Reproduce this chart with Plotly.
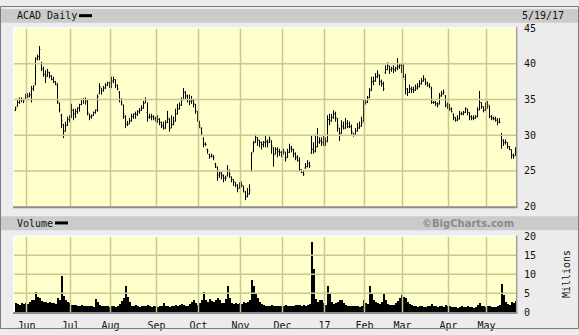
import plotly.graph_objects as go
import pandas as pd

# ---------------- data ----------------
holidays = ["2016-05-30", "2016-07-04", "2016-09-05", "2016-11-24", "2016-12-26",
            "2017-01-02", "2017-01-16", "2017-02-20", "2017-04-14"]
dates = pd.bdate_range("2016-05-23", "2017-05-19")
dates = dates[~dates.isin(pd.to_datetime(holidays))]

month_labels = ["Jun", "Jul", "Aug", "Sep", "Oct", "Nov", "Dec", "17", "Feb", "Mar", "Apr", "May"]
price_ticks = [20, 25, 30, 35, 40, 45]
volume_ticks = [0, 5, 10, 15, 20]

opens = [
    33.5, 34.0, 34.6, 35.0, 35.0, 35.0,
    35.6, 35.5, 35.7, 36.5, 37.2, 40.8, 41.0, 40.0, 39.3, 38.5, 38.3, 38.8, 38.3, 37.8, 37.5, 37.0, 34.5, 32.8, 31.5, 30.6, 31.4, 32.2,
    32.5, 33.5, 33.0, 33.3, 33.8, 34.3, 35.0, 35.0, 34.8, 33.0, 32.6, 32.8, 33.2, 33.5, 35.8, 36.6, 36.3, 36.6, 37.0, 37.3,
    37.0, 37.6, 37.8, 37.0, 36.0, 35.0, 34.2, 32.6, 31.6, 31.6, 32.0, 32.6, 33.0, 32.9, 33.3, 33.5, 33.8, 34.5, 33.2, 32.5, 32.6, 32.6, 32.4,
    32.3, 32.2, 31.8, 31.3, 31.0, 31.8, 32.2, 31.0, 31.5, 32.0, 33.0, 33.7, 34.2, 35.0, 36.0, 35.5, 35.0, 34.8, 34.9, 34.3, 33.3,
    32.0, 31.0, 29.5, 28.8, 28.0, 27.3, 27.0, 27.0, 26.0, 25.5, 24.3, 24.7, 24.3, 24.0, 24.3, 25.0, 24.2, 23.8, 23.4, 23.0, 22.6,
    22.8, 22.9, 22.0, 21.4, 21.8, 25.0, 27.8, 29.0, 29.6, 29.3, 29.0, 28.7, 29.0, 29.1, 29.0, 29.2, 28.2, 27.4, 28.0, 27.7, 27.6,
    27.4, 27.6, 26.9, 27.6, 28.2, 28.0, 27.4, 26.9, 26.4, 25.1, 24.8, 25.4, 25.6, 26.0, 27.5, 28.0, 27.8, 28.4, 29.0, 29.2, 29.0,
    29.2, 29.3, 32.2, 32.0, 32.5, 33.0, 32.3, 31.0, 30.3, 31.3, 31.0, 31.6, 31.2, 31.2, 30.3, 30.0, 30.6, 31.0, 31.3, 32.0,
    34.4, 34.6, 35.3, 36.3, 37.5, 37.6, 38.2, 38.4, 37.5, 37.2, 38.8, 39.2, 39.7, 39.2, 39.3, 39.2, 39.4, 39.6, 39.8,
    39.5, 37.8, 36.4, 36.0, 36.5, 36.4, 36.3, 36.6, 36.8, 37.2, 37.6, 37.9, 37.3, 37.0, 36.5, 34.6, 34.6, 34.4, 34.4, 35.5, 35.8, 35.5, 34.2,
    33.9, 33.7, 33.0, 32.5, 32.1, 32.3, 33.0, 33.0, 33.2, 33.7, 33.2, 32.6, 32.4, 32.4, 32.6, 33.6, 34.6, 34.0, 33.5,
    34.0, 34.0, 32.6, 32.4, 32.3, 32.1, 31.8, 30.0, 29.3, 29.0, 29.0, 28.4, 28.0, 27.2, 27.2,
]
highs = [
    34.0, 34.9, 35.3, 35.3, 35.1, 35.8,
    35.9, 36.0, 36.9, 37.0, 40.9, 41.3, 42.5, 40.3, 39.6, 39.1, 39.3, 38.9, 38.4, 38.2, 37.6, 37.3, 34.6, 33.0, 31.6, 31.9, 32.6, 32.8,
    34.4, 33.7, 33.7, 33.9, 34.4, 35.1, 35.2, 35.3, 35.0, 33.0, 32.9, 33.3, 33.6, 35.7, 37.3, 36.6, 36.9, 37.3, 37.5, 37.5,
    38.2, 38.2, 37.8, 37.1, 36.2, 35.2, 34.3, 32.8, 32.0, 32.4, 33.0, 33.0, 33.3, 33.5, 33.8, 34.2, 34.8, 35.3, 34.6, 33.0, 33.0, 32.8, 32.6,
    32.8, 32.4, 31.9, 31.9, 32.1, 33.4, 32.4, 32.8, 32.6, 33.7, 34.4, 34.6, 35.3, 36.6, 36.2, 35.7, 35.7, 35.5, 35.1, 34.4, 33.4,
    32.0, 31.1, 29.7, 29.0, 28.1, 27.4, 27.4, 27.2, 26.1, 25.6, 24.9, 24.8, 24.5, 24.3, 25.8, 25.2, 24.2, 23.8, 23.4, 23.1, 23.4,
    23.5, 22.9, 22.2, 22.6, 23.1, 27.6, 29.2, 30.1, 29.7, 29.3, 29.1, 29.2, 29.9, 29.4, 29.8, 29.3, 28.3, 28.3, 28.3, 28.1, 27.8,
    28.1, 27.6, 28.1, 28.8, 28.5, 28.1, 27.6, 27.2, 26.9, 25.2, 25.1, 26.1, 26.5, 26.3, 30.0, 29.0, 30.1, 31.0, 29.7, 29.7, 29.9,
    29.7, 32.8, 33.0, 33.0, 33.5, 33.3, 32.4, 31.0, 32.1, 31.9, 32.4, 32.1, 31.9, 31.5, 30.3, 31.0, 31.7, 31.9, 32.6, 35.0,
    35.0, 35.5, 36.6, 38.2, 38.2, 38.7, 39.1, 38.5, 37.8, 37.5, 39.8, 40.2, 39.7, 39.6, 39.8, 39.6, 40.8, 40.0, 40.0,
    40.0, 38.6, 36.6, 37.1, 36.8, 36.8, 37.1, 37.3, 37.7, 38.0, 38.4, 37.9, 37.5, 37.3, 36.8, 34.8, 34.8, 34.6, 35.9, 36.2, 36.4, 35.6, 34.6,
    34.4, 33.9, 33.0, 32.5, 32.8, 33.4, 33.3, 33.4, 33.9, 33.7, 33.2, 32.8, 32.8, 32.8, 33.9, 36.2, 34.6, 34.0, 34.6,
    34.8, 34.2, 32.8, 32.6, 32.6, 32.4, 32.4, 30.3, 29.4, 29.4, 29.0, 28.5, 28.0, 27.4, 28.3,
]
lows = [
    33.4, 34.0, 34.4, 34.6, 34.5, 35.0,
    35.2, 35.3, 34.6, 36.2, 37.0, 40.5, 40.5, 39.0, 38.2, 37.3, 38.2, 38.0, 37.7, 37.3, 37.0, 34.4, 33.2, 31.0, 29.6, 30.5, 31.3, 31.8,
    32.4, 32.1, 32.4, 33.0, 33.3, 34.2, 34.4, 34.3, 32.8, 32.1, 32.3, 32.7, 33.0, 33.3, 35.8, 35.7, 36.1, 36.5, 36.9, 36.6,
    36.6, 37.3, 36.6, 36.3, 34.6, 34.2, 32.3, 31.0, 31.3, 31.6, 31.9, 32.3, 32.3, 32.7, 33.0, 33.4, 33.7, 34.5, 31.9, 32.3, 32.1, 32.1, 31.9,
    31.7, 31.4, 31.0, 30.8, 30.9, 31.7, 30.5, 31.0, 31.4, 31.9, 32.9, 33.6, 34.1, 34.9, 35.0, 34.6, 34.2, 34.4, 33.9, 33.0, 31.9,
    31.0, 29.9, 28.3, 28.5, 27.4, 26.7, 26.9, 26.5, 25.4, 23.6, 24.0, 23.8, 23.4, 23.6, 24.2, 24.0, 23.4, 22.9, 22.7, 22.0, 22.5,
    22.7, 22.0, 20.9, 21.3, 21.7, 24.9, 27.6, 28.9, 28.5, 28.3, 28.0, 28.3, 28.3, 28.3, 28.9, 27.4, 25.6, 27.3, 26.9, 27.1, 26.9,
    27.3, 26.3, 26.8, 27.5, 27.6, 26.9, 26.5, 26.3, 24.9, 24.7, 24.3, 25.3, 25.5, 25.4, 27.4, 27.4, 27.6, 28.3, 28.8, 28.5, 28.5,
    28.5, 29.0, 31.4, 31.9, 32.3, 31.9, 30.5, 29.2, 30.2, 30.8, 30.9, 31.0, 31.0, 30.1, 29.8, 29.9, 30.5, 30.9, 31.2, 31.8,
    34.3, 34.5, 35.2, 36.2, 37.0, 37.5, 38.0, 37.0, 36.8, 36.2, 38.6, 39.1, 38.6, 38.9, 38.7, 38.9, 39.1, 39.3, 38.7,
    38.0, 35.7, 35.5, 35.9, 35.9, 35.9, 36.2, 36.4, 36.7, 37.1, 37.5, 37.0, 36.8, 36.6, 34.4, 34.4, 34.1, 33.9, 34.3, 35.4, 35.7, 33.9, 33.7,
    33.4, 33.2, 32.1, 31.9, 32.0, 32.2, 32.8, 32.8, 33.1, 32.8, 32.1, 32.1, 32.1, 32.3, 32.5, 33.5, 33.7, 33.2, 33.4,
    33.7, 32.4, 32.1, 32.1, 31.9, 31.4, 31.7, 28.1, 28.5, 28.7, 28.1, 27.9, 26.7, 26.7, 27.1,
]
closes = [
    33.7, 34.6, 35.0, 35.0, 34.8, 35.6,
    35.5, 35.7, 36.5, 36.8, 40.7, 41.0, 42.0, 39.3, 38.5, 38.2, 38.8, 38.3, 37.8, 37.5, 37.3, 34.7, 33.6, 32.0, 30.5, 31.3, 32.2, 32.2,
    33.5, 33.0, 33.3, 33.8, 34.3, 35.0, 35.0, 35.0, 33.2, 32.6, 32.7, 33.2, 33.5, 35.4, 36.8, 36.2, 36.6, 37.0, 37.3, 37.0,
    37.6, 37.8, 37.0, 36.5, 35.0, 34.5, 33.0, 31.5, 31.5, 32.0, 32.6, 33.0, 32.9, 33.3, 33.5, 33.8, 34.5, 35.0, 32.5, 32.6, 32.6, 32.4, 32.3,
    32.2, 31.8, 31.3, 31.0, 31.7, 32.4, 31.0, 31.5, 31.8, 33.0, 33.7, 34.2, 35.0, 36.0, 35.5, 35.0, 34.8, 34.9, 34.5, 33.5, 32.3,
    31.3, 30.3, 28.7, 28.7, 27.8, 27.0, 27.2, 26.9, 25.7, 24.5, 24.7, 24.4, 24.0, 24.0, 25.0, 24.5, 23.8, 23.5, 23.0, 22.5, 22.8,
    23.0, 22.3, 21.3, 21.7, 22.3, 27.5, 28.9, 29.7, 29.3, 29.0, 28.7, 29.0, 29.1, 29.0, 29.5, 28.5, 27.2, 28.0, 27.7, 27.6, 27.4,
    27.7, 26.8, 27.6, 28.2, 28.0, 27.4, 26.9, 26.5, 25.2, 24.8, 24.5, 25.6, 26.0, 25.7, 28.0, 27.7, 28.3, 29.0, 29.2, 29.0, 29.2,
    29.1, 32.2, 32.0, 32.5, 33.0, 32.5, 31.3, 30.2, 31.2, 31.0, 31.6, 31.2, 31.2, 30.5, 30.0, 30.6, 31.0, 31.3, 31.7, 34.3,
    34.6, 35.2, 36.2, 37.5, 37.6, 38.2, 38.6, 37.5, 37.2, 36.5, 39.2, 39.7, 39.2, 39.3, 39.2, 39.4, 39.6, 39.8, 39.5,
    38.2, 36.5, 36.0, 36.5, 36.4, 36.3, 36.6, 36.8, 37.2, 37.6, 37.9, 37.3, 37.0, 36.8, 34.6, 34.6, 34.4, 34.2, 35.5, 35.8, 36.0, 34.2, 33.9,
    33.7, 33.3, 32.5, 32.1, 32.3, 33.0, 33.0, 33.2, 33.7, 33.2, 32.6, 32.4, 32.4, 32.6, 33.5, 34.6, 34.0, 33.5, 34.0,
    34.3, 32.6, 32.4, 32.3, 32.1, 31.8, 31.8, 29.3, 29.0, 29.0, 28.4, 28.0, 27.2, 27.0, 27.8,
]
volumes = [  # millions
    2.3, 2.0, 1.8, 2.4, 2.0, 2.2,
    2.0, 2.5, 3.0, 3.2, 5.3, 3.8, 3.5, 2.8, 2.5, 2.6, 2.4, 2.6, 2.3, 2.2, 2.0, 3.5, 3.0, 9.5, 4.2, 3.0, 2.6, 2.2,
    1.9, 1.8, 1.7, 1.6, 1.5, 1.7, 1.6, 1.5, 1.6, 1.4, 1.5, 1.3, 3.3, 2.6, 1.9, 1.6, 1.5, 1.4, 1.5, 1.3,
    1.4, 1.5, 1.3, 1.6, 2.0, 2.8, 3.5, 6.7, 4.0, 2.5, 1.6, 1.4, 1.8, 1.5, 1.3, 1.4, 1.5, 1.6, 1.9, 1.4, 1.3, 1.5, 1.4,
    1.3, 1.4, 1.6, 2.2, 1.5, 1.4, 1.3, 1.5, 1.4, 1.9, 1.6, 1.8, 2.0, 1.7, 1.5, 1.4, 2.0, 2.6, 3.0, 2.4, 1.8,
    2.4, 3.0, 5.2, 3.0, 2.5, 3.4, 2.8, 2.6, 3.2, 3.5, 3.0, 2.4, 2.2, 3.3, 6.7, 3.5, 2.2, 2.0, 2.3, 2.1, 2.4,
    2.0, 2.6, 2.2, 2.5, 3.0, 8.4, 6.9, 5.0, 3.5, 2.6, 2.0, 1.7, 1.6, 1.5, 1.6, 1.7, 1.5, 1.4, 1.6, 1.5, 1.4,
    1.5, 1.7, 1.6, 1.4, 1.5, 1.6, 1.7, 1.8, 1.9, 1.6, 1.7, 1.5, 1.8, 2.0, 18.3, 11.2, 3.4, 2.6, 3.0, 3.0, 2.4,
    1.8, 6.9, 4.7, 2.6, 2.0, 2.2, 2.5, 3.2, 3.0, 2.4, 1.8, 1.5, 1.4, 1.5, 1.6, 1.4, 1.5, 1.3, 1.6, 3.0,
    2.4, 2.0, 6.9, 4.7, 3.0, 2.5, 2.2, 2.0, 2.6, 4.7, 3.2, 2.0, 1.7, 1.8, 1.9, 2.4, 2.9, 3.5, 4.3,
    4.0, 3.5, 2.6, 2.0, 1.7, 1.5, 1.4, 1.3, 1.4, 1.5, 1.3, 1.2, 1.4, 1.6, 2.0, 1.5, 1.4, 1.3, 1.5, 1.4, 1.3, 1.9, 1.5,
    1.4, 1.3, 1.2, 1.3, 1.1, 1.2, 1.5, 1.3, 1.2, 1.4, 1.3, 1.2, 1.1, 1.3, 1.8, 2.3, 1.6, 1.4, 1.3,
    1.5, 1.4, 1.3, 1.2, 1.3, 1.4, 1.9, 7.3, 4.5, 2.5, 2.0, 1.9, 2.6, 2.2, 2.8,
]

n = len(dates)
idx = list(range(n))
month_starts = [i for i in range(1, n) if dates[i].month != dates[i - 1].month]
tick_pos = [i - 0.5 for i in month_starts]

# ---------------- styling helpers ----------------
W, H = 579, 335
def px(x): return x / W
def py(y): return 1 - y / H

MONO = "DejaVu Sans Mono"
GRID = "#c8c890"
PLOT_BG = "#ffffcc"
PAGE_BG = "#ececec"
BAR_BG = "#cbcbcb"
L, R = 14, 516
P_TOP, P_BOT = 23, 208
V_TOP, V_BOT = 239, 317.5
XR = [-0.75, 250.25]   # exactly 2 px per trading day

fig = go.Figure()

# grid drawn as line traces (first, so they sit under the marks)
def grid_trace(xa, ya, yticks):
    gx, gy = [], []
    for t in tick_pos:
        gx += [t, t, None]
        gy += [yticks[0], yticks[-1], None]
    for t in yticks[1:-1]:
        gx += [XR[0], XR[1], None]
        gy += [t, t, None]
    return go.Scatter(x=gx, y=gy, mode="lines", line=dict(color=GRID, width=1.5),
                      xaxis=xa, yaxis=ya, hoverinfo="skip", showlegend=False, cliponaxis=True)

fig.add_trace(grid_trace("x", "y", price_ticks))
fig.add_trace(grid_trace("x2", "y2", volume_ticks))

fig.add_trace(go.Ohlc(
    x=idx, open=opens, high=highs, low=lows, close=closes,
    increasing=dict(line=dict(color="black", width=1)),
    decreasing=dict(line=dict(color="black", width=1)),
    tickwidth=0.45, xaxis="x", yaxis="y", hoverinfo="skip", showlegend=False))
fig.add_trace(go.Bar(
    x=idx, y=volumes, width=1.0, marker=dict(color="black", line=dict(width=0)),
    xaxis="x2", yaxis="y2", hoverinfo="skip", showlegend=False))

tickfont = dict(family=MONO, size=10, color="#111111")
common_x = dict(range=XR, tickvals=tick_pos, showgrid=False,
                zeroline=False, ticks="", showline=False, fixedrange=True)
common_y = dict(side="right", showgrid=False, zeroline=False,
                ticks="", showline=False, tickfont=tickfont, ticklabelstandoff=7, fixedrange=True)

fig.update_layout(
    width=W, height=H, margin=dict(l=0, r=0, t=0, b=0),
    paper_bgcolor=PAGE_BG, plot_bgcolor=PLOT_BG, showlegend=False, bargap=0,
    xaxis=dict(domain=[px(L), px(R)], anchor="y", showticklabels=False,
               rangeslider=dict(visible=False), **common_x),
    yaxis=dict(domain=[py(P_BOT), py(P_TOP)], anchor="x", range=[20, 45], tickvals=price_ticks, **common_y),
    xaxis2=dict(domain=[px(L), px(R)], anchor="y2", ticktext=month_labels, tickfont=tickfont,
                ticklabelstandoff=6, **common_x),
    yaxis2=dict(domain=[py(V_BOT), py(V_TOP)], anchor="x2", range=[0, 20], tickvals=volume_ticks, **common_y),
)

shapes = []
def rect(x0, y0, x1, y1, fill, layer="below"):
    shapes.append(dict(type="rect", xref="paper", yref="paper", x0=px(x0), x1=px(x1), y0=py(y1), y1=py(y0),
                       fillcolor=fill, line=dict(width=0), layer=layer))
def line(x0, y0, x1, y1, color, width):
    shapes.append(dict(type="line", xref="paper", yref="paper", x0=px(x0), x1=px(x1), y0=py(y0), y1=py(y1),
                       line=dict(color=color, width=width), layer="above"))

rect(1, 3, 578, 17.5, BAR_BG)
rect(1, 218, 578, 232.5, BAR_BG)
# legend swatches
line(79, 10, 92, 10, "black", 3)
line(55, 225, 68, 225, "black", 3)
# plot frames (inset look)
for top, bot in [(P_TOP, P_BOT), (V_TOP, V_BOT)]:
    line(L - 0.5, top - 0.5, R, top - 0.5, "#ffffff", 1)
    line(L - 0.5, top - 0.5, L - 0.5, bot, "#ffffff", 1)
    line(L - 1, bot + 0.8, R + 1.5, bot + 0.8, "#8c8c8c", 2)
    line(R + 0.7, top - 1, R + 0.7, bot + 1.5, "#a0a0a0", 1.5)
# outer border
shapes.append(dict(type="rect", xref="paper", yref="paper", x0=px(0.5), x1=px(578.5), y0=py(334.5), y1=py(0.5),
                   line=dict(color="#7a7a7a", width=1), layer="above"))
fig.update_layout(shapes=shapes)

ann = []
def text(t, x, y, anchor="left", font=None, angle=0):
    ann.append(dict(text=t, x=px(x), y=py(y), xref="paper", yref="paper", xanchor=anchor, yanchor="middle",
                    showarrow=False, font=font or dict(family=MONO, size=10, color="#111111"), textangle=angle))
text("ACAD Daily", 15, 10)
text("5/19/17", 566, 10, "right")
text("Volume", 15, 225.5)
text("<b>©BigCharts.com</b>", 516, 225.5, "right", dict(family="DejaVu Sans", size=10, color="#8a8a8a"))
text("Millions", 566, 278, "center", angle=-90)
fig.update_layout(annotations=ann)

fig.write_html("out.html")
